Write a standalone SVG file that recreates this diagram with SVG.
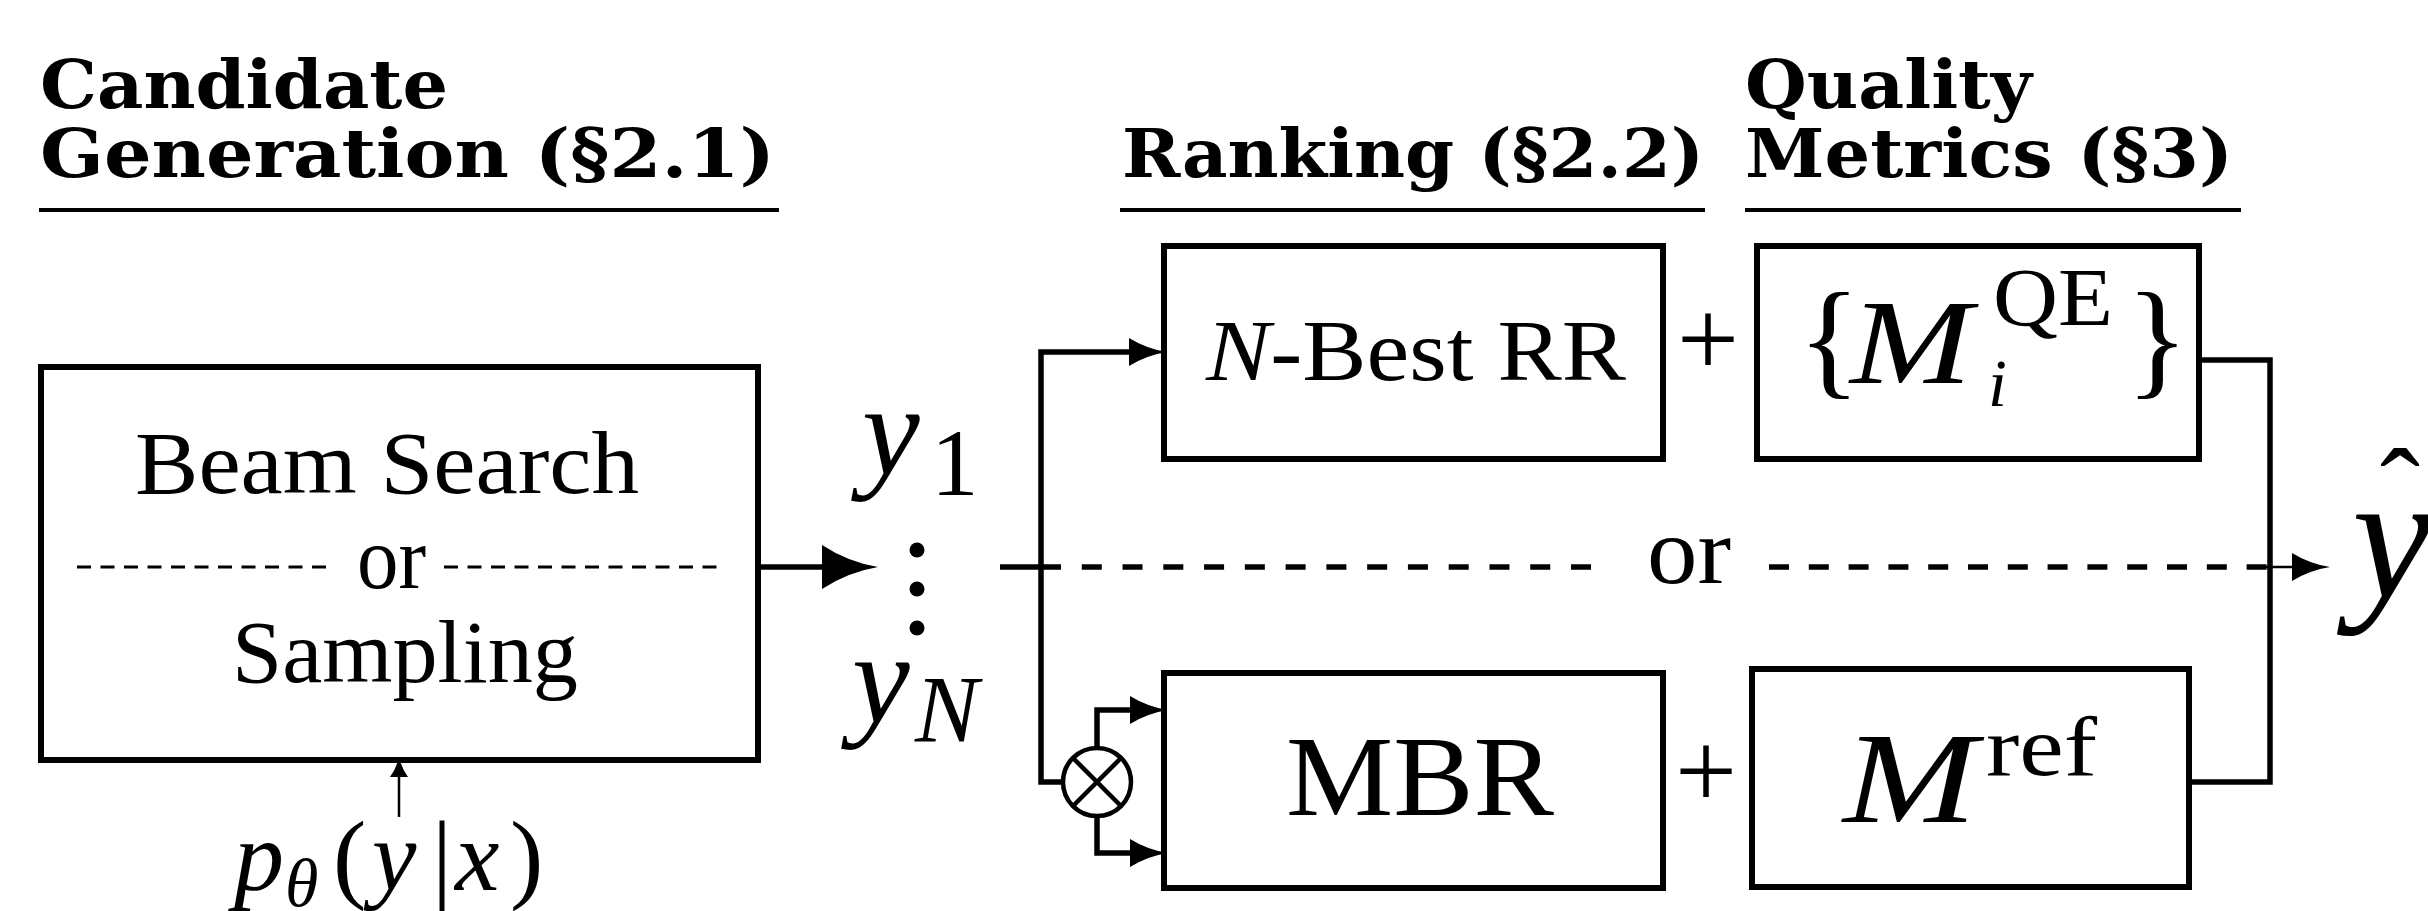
<svg xmlns="http://www.w3.org/2000/svg" width="2428" height="911" viewBox="0 0 2428 911">
  <style>
    .head { font-family: "DejaVu Serif", "Liberation Serif", serif; font-weight: bold; font-size: 68px; fill: #000; }
    .rm { font-family: "Liberation Serif", "Times New Roman", serif; fill: #000; }
    .it { font-family: "Liberation Serif", "Times New Roman", serif; font-style: italic; fill: #000; }
    .rule { stroke: #000; stroke-width: 4; fill: none; }
    .box { fill: #fff; stroke: #000; stroke-width: 6; }
    .wire { fill: none; stroke: #000; stroke-width: 5.5; stroke-linejoin: miter; }
    .thin { fill: none; stroke: #000; stroke-width: 2.5; }
    .dash { fill: none; stroke: #000; stroke-width: 5.5; }
    .inner-dash { fill: none; stroke: #000; stroke-width: 3; stroke-dasharray: 14 9.5; }
  </style>
  <defs>
    <marker id="arrow-big" markerUnits="userSpaceOnUse" viewBox="0 0 56 44" markerWidth="56" markerHeight="44" refX="36" refY="22" orient="auto">
      <path d="M0,0 Q26,17 56,22 Q26,27 0,44 Z" fill="#000"/>
    </marker>
    <marker id="arrow-mid" markerUnits="userSpaceOnUse" viewBox="0 0 38 28" markerWidth="38" markerHeight="28" refX="20" refY="14" orient="auto">
      <path d="M0,0 Q18,11 38,14 Q18,17 0,28 Z" fill="#000"/>
    </marker>
    <marker id="arrow-small" markerUnits="userSpaceOnUse" viewBox="0 0 20 18" markerWidth="20" markerHeight="18" refX="10" refY="9" orient="auto">
      <path d="M0,0 Q10,7 20,9 Q10,11 0,18 Z" fill="#000"/>
    </marker>
  </defs>

  <rect x="0" y="0" width="2428" height="911" fill="#fff"/>

  <!-- section headings -->
  <g id="heading-generation">
    <text class="head" x="40" y="108" textLength="408" lengthAdjust="spacingAndGlyphs">Candidate</text>
    <text class="head" x="40" y="177" textLength="735" lengthAdjust="spacingAndGlyphs">Generation (§2.1)</text>
    <line class="rule" x1="39" y1="210" x2="779" y2="210"/>
  </g>
  <g id="heading-ranking">
    <text class="head" x="1122" y="177" textLength="582" lengthAdjust="spacingAndGlyphs">Ranking (§2.2)</text>
    <line class="rule" x1="1120" y1="210" x2="1705" y2="210"/>
  </g>
  <g id="heading-metrics">
    <text class="head" x="1745" y="108" textLength="287" lengthAdjust="spacingAndGlyphs">Quality</text>
    <text class="head" x="1745" y="177" textLength="488" lengthAdjust="spacingAndGlyphs">Metrics (§3)</text>
    <line class="rule" x1="1745" y1="210" x2="2241" y2="210"/>
  </g>

  <!-- connectors -->
  <g id="connectors">
    <!-- generator to candidate list -->
    <path class="wire" d="M758,567 H858" marker-end="url(#arrow-big)"/>
    <!-- model distribution into generator -->
    <path class="thin" d="M399,817 V767" marker-end="url(#arrow-small)"/>
    <!-- split: upper branch to N-best reranking, lower branch to the product node -->
    <path class="wire" d="M1000,567 H1041"/>
    <path class="wire" d="M1063,782 H1041 V352 H1149" marker-end="url(#arrow-mid)"/>
    <path class="wire" d="M1097,748 V710 H1150" marker-end="url(#arrow-mid)"/>
    <path class="wire" d="M1097,816 V853 H1150" marker-end="url(#arrow-mid)"/>
    <!-- alternative path (dashed) -->
    <path class="dash" d="M1041,567 H1591" stroke-dasharray="20 20.77"/>
    <path class="dash" d="M1769,567 H2267" stroke-dasharray="20 19.8"/>
    <path class="thin" d="M2266,567 H2312" marker-end="url(#arrow-mid)"/>
    <!-- merge of both metric outputs -->
    <path class="wire" d="M2198,360 H2270 V782 H2189"/>
  </g>

  <!-- candidate generator -->
  <g id="node-generator">
    <rect class="box" x="41" y="367" width="717" height="393"/>
    <text class="rm" font-size="88" x="135" y="493" textLength="504" lengthAdjust="spacingAndGlyphs">Beam Search</text>
    <path class="inner-dash" d="M77,567 H334"/>
    <text class="rm" font-size="88" x="357" y="588" textLength="69" lengthAdjust="spacingAndGlyphs">or</text>
    <path class="inner-dash" d="M444,567 H724"/>
    <text class="rm" font-size="88" x="232" y="682" textLength="346" lengthAdjust="spacingAndGlyphs">Sampling</text>
  </g>

  <!-- model distribution -->
  <g id="node-model">
    <text class="it" font-size="100" x="234" y="890">p</text>
    <text class="it" font-size="68" x="285" y="906">θ</text>
    <text class="rm" font-size="100" y="890"><tspan x="333">(</tspan><tspan class="it" x="372">y</tspan><tspan x="432">|</tspan><tspan class="it" x="455">x</tspan><tspan x="510">)</tspan></text>
  </g>

  <!-- candidate list y_1 ... y_N -->
  <g id="node-candidates">
    <text class="it" font-size="130" x="862" y="474">y</text>
    <text class="rm" font-size="95" x="931" y="495">1</text>
    <circle cx="917" cy="550" r="7.5" fill="#000"/>
    <circle cx="917" cy="589" r="7.5" fill="#000"/>
    <circle cx="917" cy="628" r="7.5" fill="#000"/>
    <text class="it" font-size="130" x="852" y="722">y</text>
    <text class="it" font-size="95" x="915" y="742">N</text>
  </g>

  <!-- product node -->
  <g id="node-product">
    <circle cx="1097" cy="782" r="34" fill="#fff" stroke="#000" stroke-width="4.5"/>
    <path d="M1073,758 L1121,806 M1073,806 L1121,758" stroke="#000" stroke-width="4.5"/>
  </g>

  <!-- N-best reranking -->
  <g id="node-nbest">
    <rect class="box" x="1164" y="246" width="499" height="213"/>
    <text class="rm" font-size="86" x="1206" y="380" textLength="420" lengthAdjust="spacingAndGlyphs"><tspan class="it">N</tspan>-Best RR</text>
  </g>
  <text id="plus-top" class="rm" font-size="110" x="1708" y="376" text-anchor="middle">+</text>

  <!-- QE metrics -->
  <g id="node-qe">
    <rect class="box" x="1757" y="246" width="442" height="213"/>
    <text class="rm" font-size="130" x="1798" y="382">{</text>
    <text class="it" font-size="120" x="1850" y="383" textLength="122" lengthAdjust="spacingAndGlyphs">M</text>
    <text class="rm" font-size="82" x="1993" y="325" textLength="120" lengthAdjust="spacingAndGlyphs">QE</text>
    <text class="it" font-size="68" x="1988" y="406">i</text>
    <text class="rm" font-size="130" x="2126" y="382">}</text>
  </g>

  <!-- alternative label -->
  <text id="label-or" class="rm" font-size="95" x="1647" y="583" textLength="84" lengthAdjust="spacingAndGlyphs">or</text>

  <!-- MBR decoding -->
  <g id="node-mbr">
    <rect class="box" x="1164" y="673" width="499" height="215"/>
    <text class="rm" font-size="114" x="1286" y="815" textLength="268" lengthAdjust="spacingAndGlyphs">MBR</text>
  </g>
  <text id="plus-bottom" class="rm" font-size="110" x="1706" y="808" text-anchor="middle">+</text>

  <!-- reference-based metric -->
  <g id="node-mref">
    <rect class="box" x="1752" y="669" width="437" height="218"/>
    <text class="it" font-size="130" x="1843" y="822" textLength="134" lengthAdjust="spacingAndGlyphs">M</text>
    <text class="rm" font-size="85" x="1986" y="775" textLength="111" lengthAdjust="spacingAndGlyphs">ref</text>
  </g>

  <!-- final output -->
  <g id="node-output">
    <text class="it" font-size="180" x="2352" y="597">y</text>
    <text class="rm" font-size="120" x="2400" y="532" text-anchor="middle">ˆ</text>
  </g>
</svg>
